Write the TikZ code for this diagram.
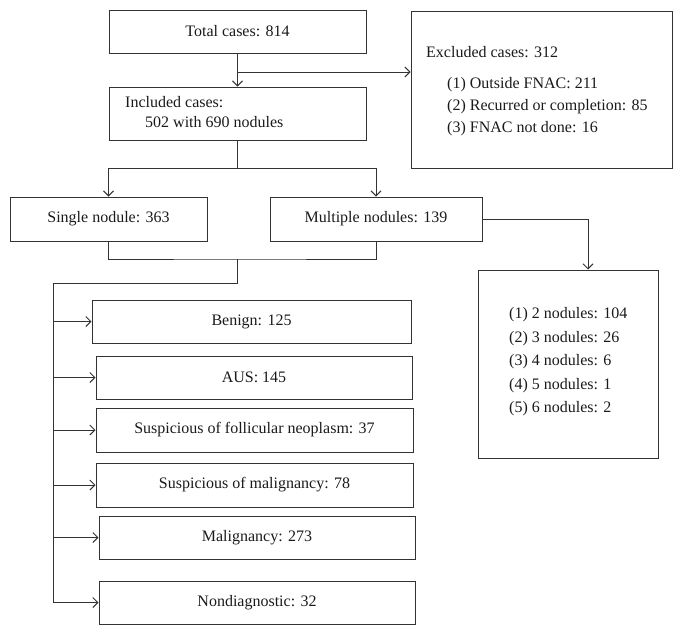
\documentclass[tikz,border=0pt]{standalone}
\usepackage{fontspec}
\setmainfont{Liberation Serif}
\usetikzlibrary{arrows.meta}
\definecolor{linec}{HTML}{333333}
\definecolor{txt}{HTML}{1A1A1A}
\newcommand{\fsz}{\fontsize{16}{20}\selectfont}
\begin{document}
\begin{tikzpicture}[x=1pt,y=-1pt,
  box/.style={draw=linec, line width=1pt, inner sep=0pt, font=\fsz, text=txt},
  conn/.style={draw=linec, line width=1pt, line join=miter},
  arr/.style={conn, -{Straight Barb[length=5pt,width=10pt,line width=1pt]}},
  lbl/.style={anchor=base west, inner sep=0pt, font=\fsz, text=txt}]
\useasboundingbox (0,0) rectangle (683,635);

% top
\node[box, minimum width=257pt, minimum height=43pt] (total) at (237.5,31.5) {Total cases: 814};
\node[box, minimum width=257pt, minimum height=53pt] (incl) at (237.5,113.5) {};
\node[lbl] (inclA) at (125,107.5) {Included cases:};
\node[lbl] (inclB) at (145,127.5) {502 with 690 nodules};

\node[box, minimum width=261pt, minimum height=157pt] (excl) at (541.5,89.5) {};
\node[lbl] (exA) at (426,57.5) {Excluded cases: 312};
\node[lbl] (exB) at (447,88.5) {(1) Outside FNAC: 211};
\node[lbl] (exC) at (447,110.5) {(2) Recurred or completion: 85};
\node[lbl] (exD) at (447,132.5) {(3) FNAC not done: 16};

% second level
\node[box, minimum width=197pt, minimum height=44pt] (single) at (108.5,219) {Single nodule: 363};
\node[box, minimum width=212pt, minimum height=44pt] (multi) at (376,219) {Multiple nodules: 139};

\node[box, minimum width=180pt, minimum height=188pt] (mbox) at (568,364) {};
\node[lbl] (mA) at (509,318.5) {(1) 2 nodules: 104};
\node[lbl] (mB) at (509,342) {(2) 3 nodules: 26};
\node[lbl] (mC) at (509,365.5) {(3) 4 nodules: 6};
\node[lbl] (mD) at (509,389) {(4) 5 nodules: 1};
\node[lbl] (mE) at (509,412.5) {(5) 6 nodules: 2};

% categories
\node[box, minimum width=319pt, minimum height=43pt] (benign) at (251.5,321.5) {Benign: 125};
\node[box, minimum width=316pt, minimum height=43pt] (aus) at (254,377.5) {AUS: 145};
\node[box, minimum width=317pt, minimum height=44pt] (sfn) at (254.5,430) {Suspicious of follicular neoplasm: 37};
\node[box, minimum width=317pt, minimum height=44pt] (som) at (254.5,485) {Suspicious of malignancy: 78};
\node[box, minimum width=316pt, minimum height=43pt] (mal) at (257,537.5) {Malignancy: 273};
\node[box, minimum width=316pt, minimum height=43pt] (nond) at (257,602.5) {Nondiagnostic: 32};

% connectors
\coordinate (j1) at (237.5,72);
\coordinate (j2) at (237.5,168);
\coordinate (j3) at (237.5,259);
\coordinate (j4) at (237.5,283);
\coordinate (j5) at (53,283);
\coordinate (j7) at (588,219);

\draw[arr] (total.south) -- (incl.north);
\draw[arr] (j1) -- (j1 -| excl.west);
\draw[conn] (incl.south) -- (j2);
\draw[arr] (j2) -| (single.north);
\draw[arr] (j2) -| (multi.north);
\draw[conn] (single.south) |- (j3) -| (multi.south);
\draw[arr] (j3) -- (j4) -- (j5) |- (nond.west);
\draw[arr] (j5 |- benign.west) -- (benign.west);
\draw[arr] (j5 |- aus.west) -- (aus.west);
\draw[arr] (j5 |- sfn.west) -- (sfn.west);
\draw[arr] (j5 |- som.west) -- (som.west);
\draw[arr] (j5 |- mal.west) -- (mal.west);
\draw[arr] (multi.east) -- (j7) -- (j7 |- mbox.north);
\end{tikzpicture}
\end{document}
